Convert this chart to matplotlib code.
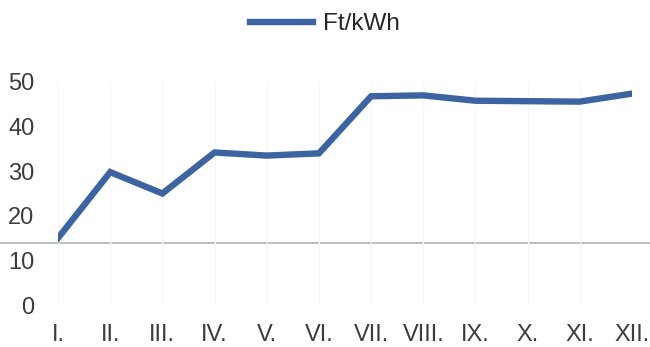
import matplotlib
matplotlib.use("Agg")
import matplotlib.pyplot as plt

months = ["I.", "II.", "III.", "IV.", "V.", "VI.", "VII.", "VIII.", "IX.", "X.", "XI.", "XII."]
price = [15.0, 29.8, 25.0, 34.2, 33.5, 34.0, 46.8, 47.0, 45.8, 45.7, 45.6, 47.4]
yticks = [0, 10, 20, 30, 40, 50]
scan_line = 13.9  # grey rule running across the scanned page

plt.rcParams["font.family"] = ["Liberation Sans", "DejaVu Sans"]

fig = plt.figure(figsize=(6.5, 3.47), dpi=100)
ax = fig.add_axes([58 / 650, 42 / 347, (632 - 58) / 650, (305 - 82) / 347])

x = range(len(months))
ax.plot(x, price, color="#3b64a0", lw=4.6, solid_joinstyle="miter", label="Ft/kWh", zorder=3)

ax.set_xlim(0, len(months) - 1)
ax.set_ylim(0, 50)
ax.set_yticks(yticks)
ax.set_xticks(list(x))
ax.set_xticklabels(months)
ax.tick_params(length=0, labelsize=17, labelcolor="#3c3c3c")
ax.tick_params(axis="y", pad=17)
ax.tick_params(axis="x", pad=14)
for s in ax.spines.values():
    s.set_visible(False)
ax.grid(axis="x", color="#f7f7f7", lw=1)

ax.axhline(scan_line, xmin=-0.1, xmax=1.04, color="#bdbdbd", lw=1.4, clip_on=False, zorder=1)

leg = fig.legend(loc="upper center", bbox_to_anchor=(0.5, 1.025), frameon=False,
                 fontsize=17.5, handlelength=2.6, handletextpad=0.4)
for t in leg.get_texts():
    t.set_color("#262626")

fig.savefig("out.png", dpi=100)
